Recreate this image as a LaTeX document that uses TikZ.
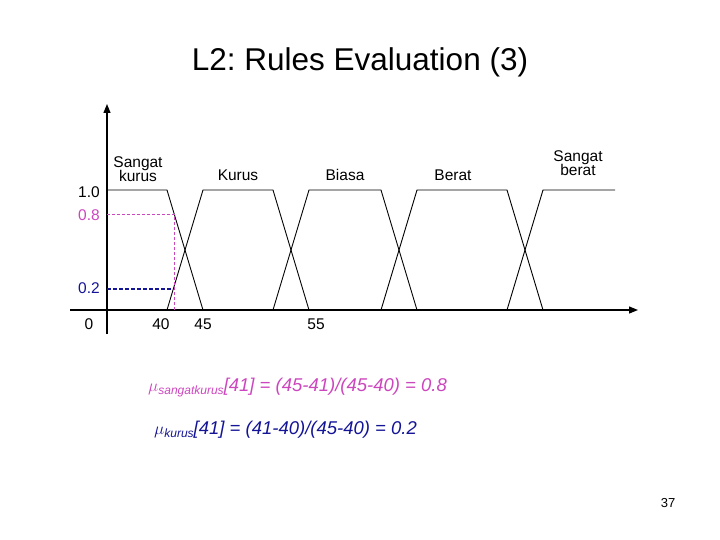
\documentclass[tikz,border=0pt]{standalone}
\usepackage{fontspec}
\setmainfont{Liberation Sans}
\usetikzlibrary{arrows.meta}
\definecolor{pinkc}{RGB}{204,70,190}
\definecolor{bluec}{RGB}{20,20,150}
\begin{document}
\begin{tikzpicture}[x=1pt,y=-1pt,
  lbl/.style={font=\fontsize{15.5}{16}\selectfont,align=center},
  tk/.style={font=\fontsize{15.5}{16}\selectfont},
  mf/.style={line width=0.9pt,black}]
\useasboundingbox (0,0) rectangle (720,540);
\node (title) at (360,62) {\fontsize{31.5}{34}\selectfont L2:\ Rules Evaluation (3)};
% axes
\coordinate (ybot) at (107,334); \coordinate (ytop) at (107,104);
\coordinate (xl) at (70,310); \coordinate (xr) at (638,310);
\draw[line width=1.2pt,-{Triangle[length=9pt,width=7pt]}] (ybot) -- (ytop);
\draw[line width=1.2pt,-{Triangle[length=9pt,width=7pt]}] (xl) -- (xr);
% membership functions
\draw[mf] (107,190) -- (167,190) -- (203,310);
\draw[mf] (167,310) -- (203,190) -- (273,190) -- (309,310);
\draw[mf] (273,310) -- (309,190) -- (381,190) -- (417,310);
\draw[mf] (381,310) -- (417,190) -- (507,190) -- (543,310);
\draw[mf] (507,310) -- (543,190) -- (615,190);
% dashed
\draw[pinkc,dash pattern=on 3pt off 2pt,line width=0.9pt] (107,214) -- (174,214) -- (174,310);
\draw[bluec,dash pattern=on 4pt off 2pt,line width=1.2pt] (107,289) -- (173,289);
% labels
\node[lbl] (l1) at (138,169) {Sangat\\[-2pt]kurus};
\node[lbl] (l2) at (238,175) {Kurus};
\node[lbl] (l3) at (345,175) {Biasa};
\node[lbl] (l4) at (453,175) {Berat};
\node[lbl] (l5) at (578,163) {Sangat\\[-2pt]berat};
\node[tk] (t10) at (89,192) {1.0};
\node[tk,text=pinkc] (t08) at (89,215) {0.8};
\node[tk,text=bluec] (t02) at (89,288) {0.2};
\node[tk] (t0) at (89,324) {0};
\node[tk] (t40) at (161,324) {40};
\node[tk] (t45) at (203,324) {45};
\node[tk] (t55) at (316,324) {55};
% formulas
\node[anchor=base west,text=pinkc,inner sep=0] (f1) at (148,391)
 {\fontsize{18.5}{22}\selectfont$\mu$\raisebox{-3pt}{\fontsize{12}{14}\selectfont\itshape sangatkurus}\itshape[41] = (45-41)/(45-40) = 0.8};
\node[anchor=base west,text=bluec,inner sep=0] (f2) at (154,434)
 {\fontsize{18.5}{22}\selectfont$\mu$\raisebox{-3pt}{\fontsize{12}{14}\selectfont\itshape kurus}\itshape[41] = (41-40)/(45-40) = 0.2};
\node (pg) at (668,503) {\fontsize{13}{14}\selectfont 37};
\end{tikzpicture}
\end{document}
